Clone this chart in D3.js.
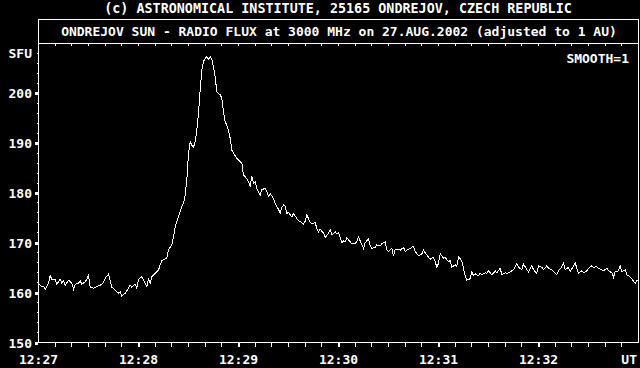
<!DOCTYPE html>
<html lang="en">
<head>
<meta charset="UTF-8">
<title>Ondrejov Sun - radio flux 3000 MHz</title>
<script src="https://d3js.org/d3.v7.min.js"></script>
<style>
    body { margin: 0; background: #000; }
    svg { display: block; }
    text {
        font-family: "DejaVu Sans Mono", monospace;
        font-weight: bold;
        font-size: 13px;
        fill: #fff;
    }
</style>
</head>
<body>
<script>
    // seconds after 12:27:00 UT
    const seconds = [
        0, 2, 3, 4, 6, 7, 8, 10, 11, 13, 14, 15, 16, 18, 20, 21, 22, 24, 25, 26,
        28, 29, 30, 31, 33, 35, 37, 39, 40, 42, 43, 44, 46, 48, 49, 50, 52, 54, 55, 56,
        58, 59, 60, 62, 64, 65, 66, 67, 68, 70, 72, 73, 74, 75, 77, 78, 80, 81, 82, 84,
        86, 87, 88, 89, 90, 91, 92, 93, 94, 95, 96, 97, 98, 99, 100, 101, 102, 103, 104, 105,
        106, 107, 108, 109, 110, 111, 112, 113, 114, 115, 116, 117, 119, 120, 122, 123, 124, 126, 127, 128,
        129, 130, 131, 133, 134, 136, 137, 138, 139, 141, 142, 144, 145, 146, 147, 148, 149, 150, 152, 153,
        154, 156, 157, 159, 160, 161, 163, 164, 166, 167, 168, 169, 171, 172, 174, 175, 176, 178, 179, 180,
        182, 183, 184, 185, 187, 188, 190, 191, 192, 194, 195, 196, 198, 199, 200, 202, 203, 205, 206, 208,
        209, 210, 212, 213, 214, 216, 217, 219, 220, 222, 223, 225, 226, 228, 230, 231, 232, 234, 235, 237,
        238, 239, 240, 241, 243, 244, 246, 247, 248, 250, 251, 252, 254, 255, 256, 257, 259, 260, 261, 262,
        264, 265, 266, 268, 269, 270, 272, 273, 274, 275, 277, 278, 280, 281, 282, 284, 285, 287, 288, 290,
        291, 293, 294, 296, 297, 299, 300, 302, 303, 305, 306, 308, 309, 311, 312, 314, 315, 316, 318, 319,
        321, 322, 323, 324, 326, 327, 329, 330, 332, 333, 335, 336, 338, 339, 341, 342, 344, 345, 346, 348,
        349, 350, 352, 353, 354, 356, 357, 358, 359, 360
    ];
    // flux in SFU
    const flux = [
        161.9, 161.2, 161.3, 160.7, 161.9, 163.4, 162.7, 162.7, 161.7, 162.7, 161.9, 162.4, 161.5, 162.5, 161.9, 160.7, 161.7, 161.9, 162.4, 161.7,
        162.2, 162.7, 163.5, 161.1, 160.9, 161.2, 161.5, 162.0, 162.9, 163.7, 162.5, 161.1, 160.5, 159.9, 160.2, 159.3, 159.9, 160.9, 161.5, 161.1,
        161.7, 160.9, 162.7, 163.2, 161.9, 161.2, 162.7, 161.9, 163.2, 163.9, 164.5, 165.6, 166.4, 166.6, 166.9, 168.6, 169.6, 171.2, 173.2, 175.2,
        177.3, 177.9, 179.6, 182.6, 188.0, 190.3, 189.6, 189.2, 190.3, 192.6, 196.0, 200.7, 204.7, 206.4, 207.0, 207.4, 206.8, 207.4, 206.8, 205.3,
        203.3, 200.3, 200.0, 199.7, 199.0, 196.3, 194.3, 193.6, 192.6, 191.0, 188.6, 188.0, 187.0, 186.6, 186.0, 183.6, 183.3, 182.3, 181.3, 183.4,
        181.9, 182.3, 180.9, 179.6, 180.7, 180.9, 180.3, 179.3, 179.9, 178.9, 177.9, 176.7, 176.0, 177.1, 177.6, 177.4, 175.9, 176.1, 175.2, 175.9,
        175.4, 174.4, 174.3, 173.8, 174.3, 175.6, 174.1, 173.8, 174.1, 172.9, 172.2, 172.7, 172.0, 171.1, 171.9, 172.6, 171.6, 172.2, 171.8, 172.0,
        170.0, 170.4, 170.2, 171.0, 170.2, 169.8, 169.9, 170.2, 171.2, 169.6, 168.9, 170.0, 170.9, 169.4, 168.9, 169.1, 169.6, 169.4, 169.8, 170.2,
        168.6, 168.3, 168.9, 167.4, 168.6, 168.7, 168.5, 169.1, 168.3, 168.7, 168.9, 169.3, 168.3, 167.4, 167.8, 168.5, 168.0, 167.1, 166.7, 167.1,
        166.2, 165.1, 165.9, 167.8, 166.9, 167.1, 166.2, 166.5, 165.1, 165.6, 165.3, 167.2, 166.4, 164.8, 163.5, 162.5, 162.8, 164.2, 163.4, 163.8,
        163.4, 163.9, 163.6, 164.0, 163.9, 164.4, 163.6, 163.9, 164.4, 164.0, 164.9, 163.6, 164.0, 163.9, 164.0, 164.4, 164.6, 165.8, 165.1, 164.6,
        165.8, 164.6, 164.2, 165.4, 164.6, 163.9, 165.4, 165.1, 164.6, 165.4, 164.9, 164.6, 164.2, 163.6, 164.4, 165.2, 165.9, 164.6, 165.1, 164.2,
        165.4, 166.0, 164.9, 163.9, 164.4, 164.0, 164.4, 164.9, 165.4, 165.1, 165.2, 164.9, 164.6, 164.4, 164.9, 164.4, 164.0, 163.1, 164.2, 164.4,
        165.4, 164.2, 164.6, 163.6, 163.4, 162.8, 162.3, 161.9, 162.5, 162.3
    ];
    const yTicks = [150, 160, 170, 180, 190, 200];
    const xTickLabels = ["12:27", "12:28", "12:29", "12:30", "12:31", "12:32", "UT"];
    const topTitle = "(c) ASTRONOMICAL INSTITUTE, 25165 ONDREJOV, CZECH REPUBLIC";
    const boxTitle = "ONDREJOV SUN - RADIO FLUX at 3000 MHz on 27.AUG.2002 (adjusted to 1 AU)";

    const width = 640, height = 368;
    const plotLeft = 38.5, plotRight = 638.5, plotTop = 43.5, plotBottom = 342.5, boxTop = 19.5;

    const x = d3.scaleLinear().domain([0, 360]).range([plotLeft, plotRight]);
    const y = d3.scaleLinear().domain([150, 210]).range([plotBottom, plotTop]);

    const svg = d3.select("body").append("svg")
        .attr("width", width)
        .attr("height", height)
        .style("background", "#000");

    const frame = svg.append("g")
        .attr("stroke", "#fff")
        .attr("stroke-width", 1)
        .attr("shape-rendering", "crispEdges")
        .attr("fill", "none");

    // title box + plot frame
    frame.append("path")
        .attr("d", `M${plotLeft},${plotBottom}V${boxTop}H${plotRight}V${plotBottom}H${plotLeft}M${plotLeft},${plotTop}H${plotRight}`);

    // bottom ticks, every 10 s; minutes a bit wider
    frame.selectAll(".xt")
        .data(d3.range(10, 360, 10))
        .enter()
        .append("line")
        .attr("x1", d => x(d)).attr("x2", d => x(d))
        .attr("y1", plotBottom).attr("y2", plotBottom + 4)
        .attr("stroke-width", d => d % 60 === 0 ? 2 : 1);

    // top ticks
    frame.selectAll(".tt")
        .data(d3.range(10, 360, 10))
        .enter()
        .append("line")
        .attr("x1", d => x(d)).attr("x2", d => x(d))
        .attr("y1", plotTop).attr("y2", plotTop + 2);

    // left ticks, every 2 SFU
    frame.selectAll(".yt")
        .data(d3.range(152, 210, 2))
        .enter()
        .append("line")
        .attr("x1", plotLeft - 2).attr("x2", plotLeft)
        .attr("y1", d => y(d)).attr("y2", d => y(d));

    svg.selectAll(".ym")
        .data(yTicks)
        .enter()
        .append("rect")
        .attr("x", plotLeft - 3.5)
        .attr("y", d => Math.round(y(d)) - 1)
        .attr("width", 3)
        .attr("height", 3)
        .attr("fill", "#fff");

    // flux curve
    const line = d3.line()
        .x((d, i) => x(seconds[i]))
        .y(d => y(d));

    svg.append("path")
        .datum(flux)
        .attr("d", line)
        .attr("fill", "none")
        .attr("stroke", "#fff")
        .attr("stroke-width", 1)
        .attr("shape-rendering", "crispEdges");

    // labels
    svg.selectAll(".yl")
        .data(yTicks)
        .enter()
        .append("text")
        .attr("x", 32)
        .attr("y", d => y(d) + 5)
        .attr("text-anchor", "end")
        .text(d => d);

    svg.append("text")
        .attr("x", 32).attr("y", y(208) + 5)
        .attr("text-anchor", "end")
        .text("SFU");

    svg.selectAll(".xl")
        .data(xTickLabels)
        .enter()
        .append("text")
        .attr("x", (d, i) => i === 6 ? 637 : x(i * 60))
        .attr("y", 364)
        .attr("text-anchor", (d, i) => i === 6 ? "end" : "middle")
        .text(d => d);

    svg.append("text")
        .attr("x", 338).attr("y", 13)
        .attr("text-anchor", "middle")
        .style("font-size", "13.4px")
        .text(topTitle);

    svg.append("text")
        .attr("x", 339).attr("y", 36)
        .attr("text-anchor", "middle")
        .text(boxTitle);

    svg.append("text")
        .attr("x", 629).attr("y", 63)
        .attr("text-anchor", "end")
        .text("SMOOTH=1");
</script>
</body>
</html>
